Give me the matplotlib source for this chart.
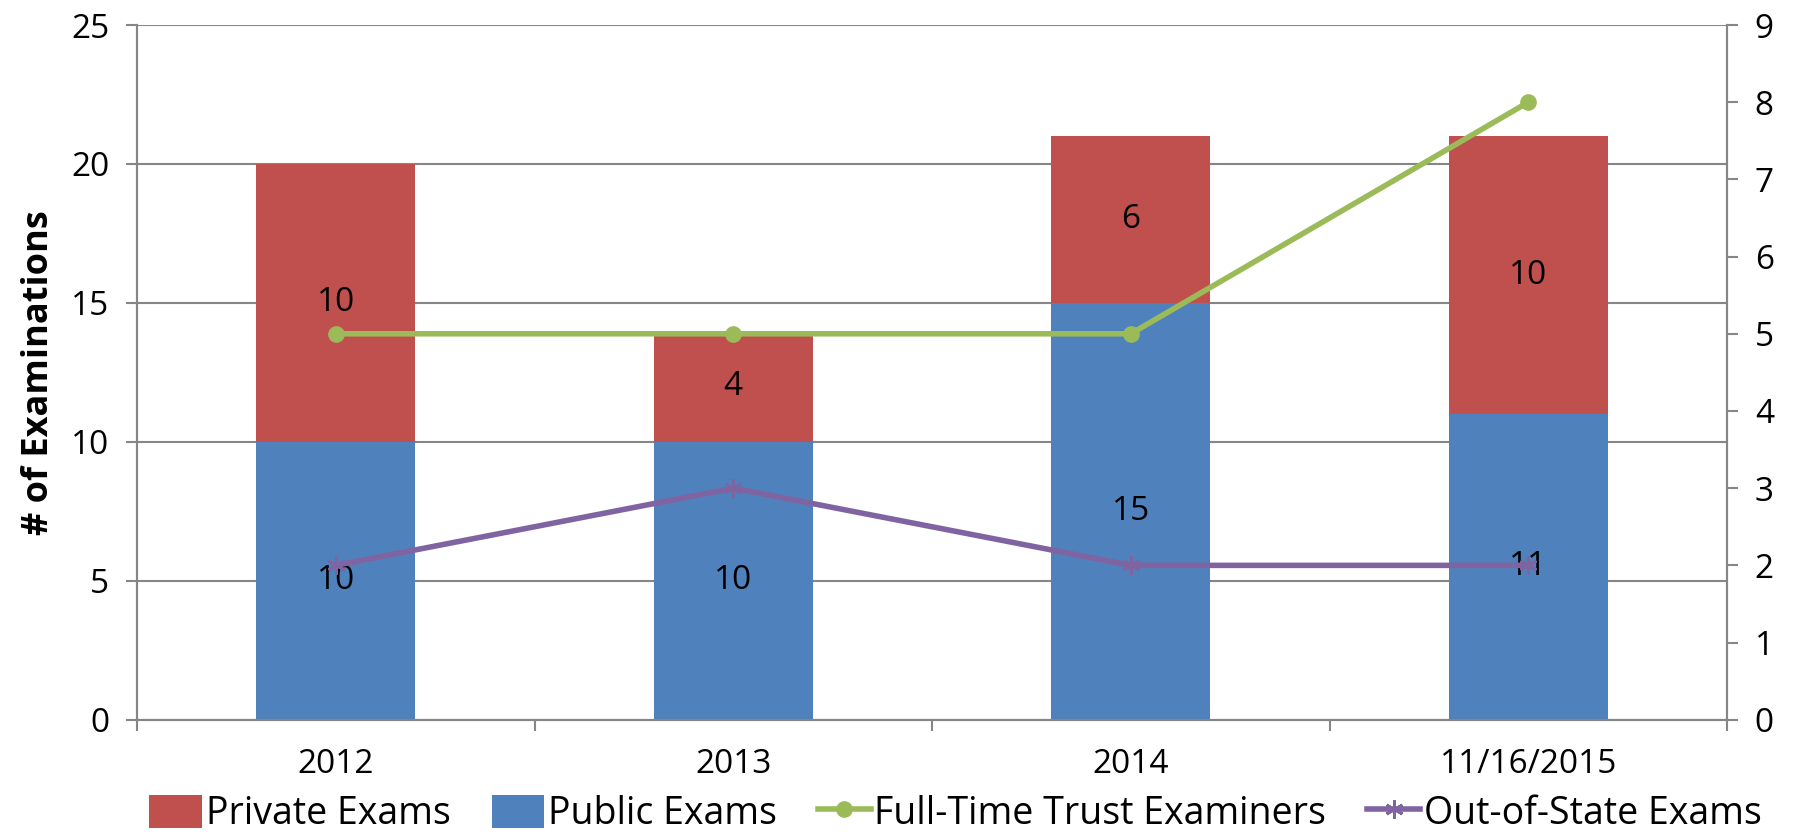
import matplotlib
matplotlib.use("Agg")
import matplotlib.pyplot as plt
import numpy as np

categories = ["2012", "2013", "2014", "11/16/2015"]
public_exams = [10, 10, 15, 11]
private_exams = [10, 4, 6, 10]
fulltime_examiners = [5, 5, 5, 8]
out_of_state = [2, 3, 2, 2]

plt.rcParams['font.family'] = ['Open Sans', 'DejaVu Sans']

fig = plt.figure(figsize=(17.96, 8.34), dpi=100)
ax = fig.add_axes([0.0763, 0.137, 0.8853, 0.833])
ax2 = ax.twinx()

x = np.arange(len(categories))
w = 0.4
red = '#C0504D'
blue = '#4F81BD'
green = '#9BBB59'
purple = '#8064A2'
gray = '#868686'

bp = ax.bar(x, private_exams, w, bottom=public_exams, color=red, label='Private Exams', zorder=2)
bu = ax.bar(x, public_exams, w, color=blue, label='Public Exams', zorder=2)

for i in range(len(x)):
    ax.text(x[i], public_exams[i] / 2, str(public_exams[i]), ha='center', va='center', fontsize=24, zorder=5)
    ax.text(x[i], public_exams[i] + private_exams[i] / 2, str(private_exams[i]), ha='center', va='center', fontsize=24, zorder=5)

l1, = ax2.plot(x, fulltime_examiners, color=green, lw=4, marker='o', ms=11, label='Full-Time Trust Examiners')
l2, = ax2.plot(x, out_of_state, color=purple, lw=4, marker=(6, 2, 0), ms=13, mew=2, label='Out-of-State Exams')

ax.set_xlim(-0.5, 3.5)
ax.set_ylim(0, 25)
ax2.set_ylim(0, 9)
ax.set_yticks(range(0, 26, 5))
ax2.set_yticks(range(0, 10))
ax.set_xticks(x)
ax.set_xticklabels(categories)
ax.set_xticks(np.arange(-0.5, 3.6, 1), minor=True)
ax.tick_params(axis='x', which='major', length=0, labelsize=24, pad=20)
ax.tick_params(axis='x', which='minor', length=8, color=gray, width=1.5, direction='out')
ax.tick_params(axis='y', length=8, color=gray, width=1.5, labelsize=24, pad=12)
ax2.tick_params(axis='y', length=8, color=gray, width=1.5, labelsize=24, pad=12)

ax.yaxis.grid(True, color=gray, lw=1.5, zorder=0)
ax.set_axisbelow(True)
for a in (ax, ax2):
    a.spines['top'].set_visible(False)
    for s in ('left', 'right', 'bottom'):
        a.spines[s].set_color(gray)
        a.spines[s].set_linewidth(1.5)

ax.set_ylabel('# of Examinations', fontsize=26, fontweight='bold', labelpad=10)

fig.legend([bp, bu, l1, l2], ['Private Exams', 'Public Exams', 'Full-Time Trust Examiners', 'Out-of-State Exams'],
           loc='center', bbox_to_anchor=(0.532, 0.024), ncol=4, frameon=False, fontsize=27,
           handlelength=1.4, handleheight=1.0, handletextpad=0.1, columnspacing=1.1)

fig.savefig('out.png', dpi=100)
